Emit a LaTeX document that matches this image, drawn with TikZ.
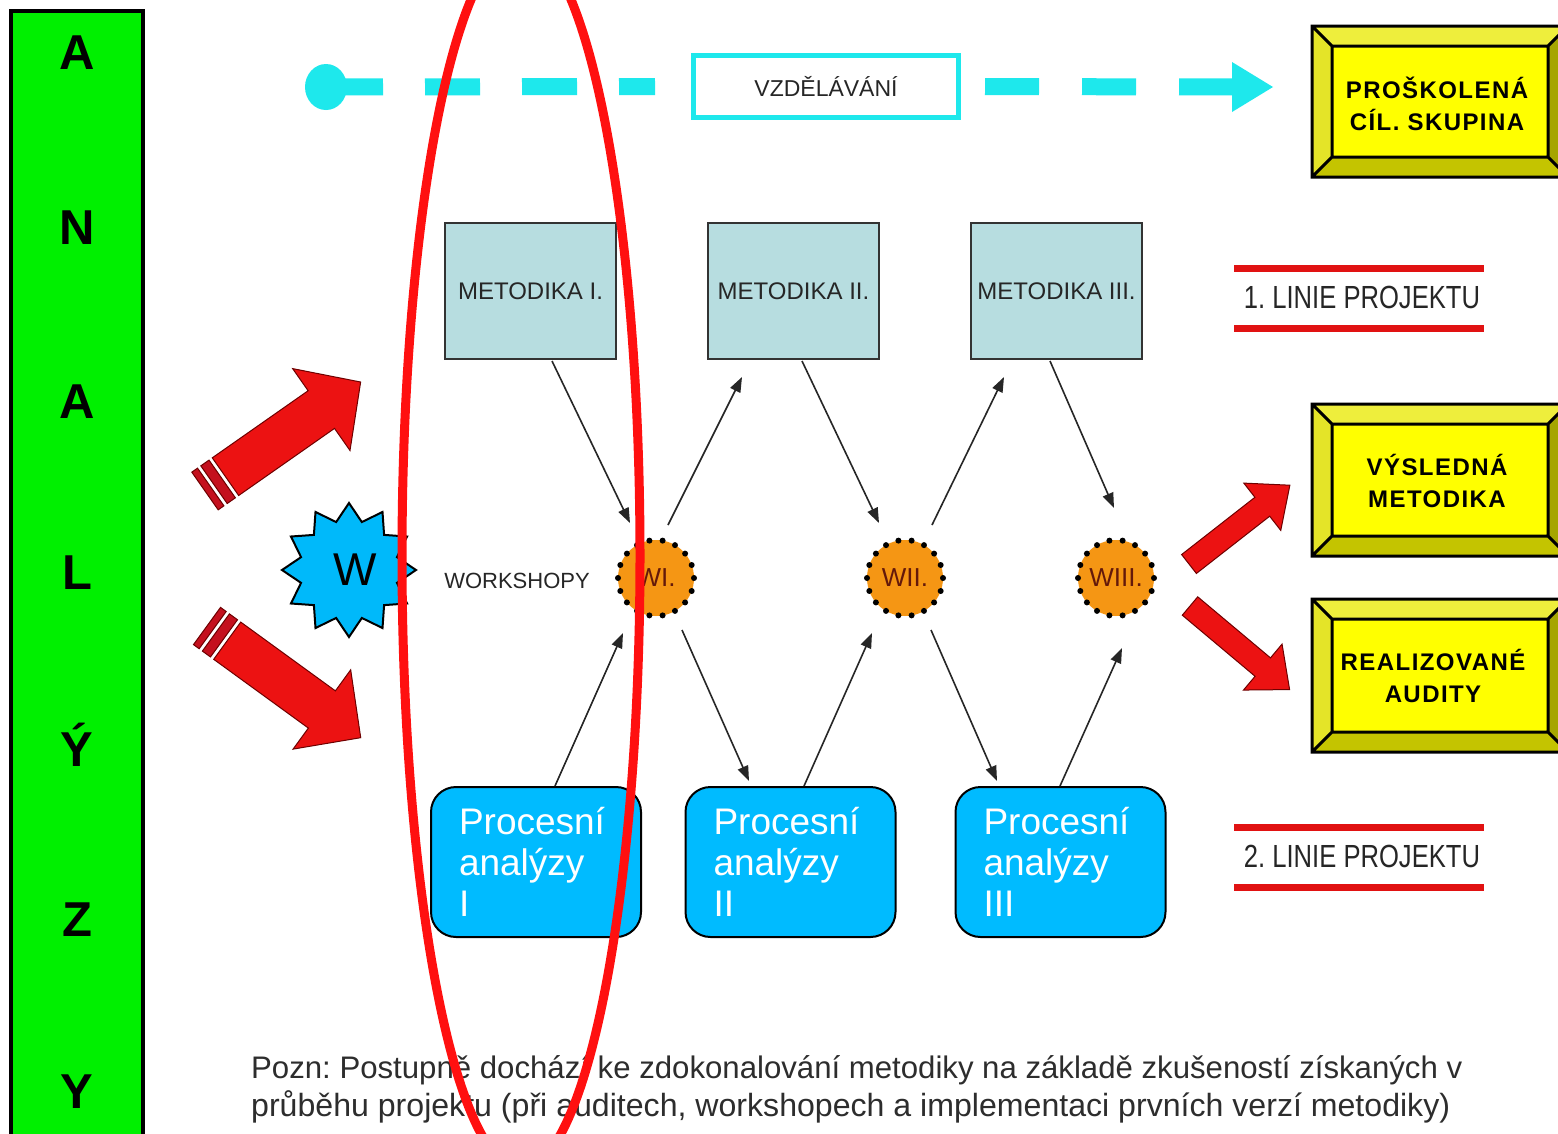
\documentclass[tikz,border=0pt]{standalone}
\usepackage{fontspec}
\setmainfont{Liberation Sans}
\newfontfamily\narrowf{Liberation Sans}[FakeStretch=0.8]
\newfontfamily\yfont{Liberation Sans}[LetterSpace=6]
\usetikzlibrary{shapes.geometric,arrows.meta,calc}
\frenchspacing
\definecolor{gbar}{RGB}{0,240,0}
\definecolor{cyanc}{RGB}{30,232,236}
\definecolor{ytop}{RGB}{238,238,60}
\definecolor{yleft}{RGB}{228,228,40}
\definecolor{ybot}{RGB}{196,196,0}
\definecolor{yright}{RGB}{165,165,0}
\definecolor{yface}{RGB}{255,255,0}
\definecolor{metc}{RGB}{183,221,224}
\definecolor{orangec}{RGB}{245,150,20}
\definecolor{wtext}{RGB}{100,25,10}
\definecolor{pcol}{RGB}{0,187,255}
\definecolor{starc}{RGB}{0,185,250}
\definecolor{redc}{RGB}{236,18,18}
\definecolor{stripec}{RGB}{196,16,30}
\definecolor{darkred}{RGB}{110,0,0}
\definecolor{ellc}{RGB}{255,16,16}
\definecolor{linec}{RGB}{225,18,18}
\definecolor{notec}{RGB}{45,45,45}
\newcommand\ybox[4]{%
 \fill[ytop] (#1,#2) -- (#3,#2) -- (#3-20,#2+20) -- (#1+20,#2+20) -- cycle;
 \fill[yleft] (#1,#2) -- (#1+20,#2+20) -- (#1+20,#4-20) -- (#1,#4) -- cycle;
 \fill[ybot] (#1,#4) -- (#1+20,#4-20) -- (#3-20,#4-20) -- (#3,#4) -- cycle;
 \fill[yright] (#3,#2) -- (#3-20,#2+20) -- (#3-20,#4-20) -- (#3,#4) -- cycle;
 \fill[yface] (#1+20,#2+20) rectangle (#3-20,#4-20);
 \draw[line width=3pt] (#1,#2) rectangle (#3,#4) (#1+20,#2+20) rectangle (#3-20,#4-20)
   (#1,#2) -- (#1+20,#2+20) (#3,#2) -- (#3-20,#2+20) (#1,#4) -- (#1+20,#4-20) (#3,#4) -- (#3-20,#4-20);}
% x, y, angle, length, shaft half, head half, head length, striped
\newcommand\redarrow[8]{%
 \begin{scope}[shift={(#1,#2)},rotate=#3]
  \ifnum#8=1
   \filldraw[fill=stripec,draw=darkred,line width=1pt] (0,-#5) rectangle (7,#5);
   \filldraw[fill=stripec,draw=darkred,line width=1pt] (11,-#5) rectangle (21,#5);
   \filldraw[fill=redc,draw=darkred,line width=1pt] (25,-#5) -- (#4-#7,-#5) -- (#4-#7,-#6) -- (#4,0) -- (#4-#7,#6) -- (#4-#7,#5) -- (25,#5) -- cycle;
  \else
   \filldraw[fill=redc,draw=darkred,line width=1pt] (0,-#5) -- (#4-#7,-#5) -- (#4-#7,-#6) -- (#4,0) -- (#4-#7,#6) -- (#4-#7,#5) -- (0,#5) -- cycle;
  \fi
 \end{scope}}
\begin{document}
\begin{tikzpicture}[x=1pt,y=-1pt,
  barletter/.style={font=\bfseries\fontsize{49}{49}\selectfont, inner sep=0},
  metbox/.style={draw={black!80}, line width=2pt, fill=metc, minimum width=171pt, minimum height=136pt, inner sep=0, font=\fontsize{24}{24}\selectfont, text=black!85},
  wcirc/.style={circle, fill=orangec, draw=black, line width=6pt, line cap=round, dash pattern=on 0pt off 13.26pt, minimum size=76pt, inner sep=0, text=wtext, font=\fontsize{26}{26}\selectfont},
  pbox/.style={draw, line width=2pt, rounded corners=25pt, fill=pcol, minimum width=210pt, minimum height=150pt, text width=154pt, align=left, inner xsep=28pt, text=white, font=\fontsize{37}{41}\selectfont},
  thinarr/.style={line width=1.6pt, black!85, -{Triangle[length=15pt,width=11pt]}},
  ytext/.style={align=center, font=\yfont\bfseries\fontsize{24}{32}\selectfont},
  redline/.style={linec, line width=7pt},
  linie/.style={font=\narrowf\fontsize{32}{32}\selectfont, text=black!85},
  notet/.style={anchor=west, inner sep=0, font=\fontsize{30}{30}\selectfont, text=notec}]
\useasboundingbox (0,0) rectangle (1558,1133);
\clip (0,0) rectangle (1558,1133);
\fill[white] (0,0) rectangle (1558,1133);
% green bar
\draw[fill=gbar, line width=4pt] (11,11) rectangle (143,1150);
\foreach \t/\yy/\n in {A/53/l1, N/228/l2, A/402/l3, L/573/l4, Ý/745/l5, Z/920/l6, Y/1092/l7}
  \node[barletter] (\n) at (77,\yy) {\t};
% education line
\node[ellipse, fill=cyanc, minimum width=42pt, minimum height=46pt, inner sep=0] (vstart) at (326,87) {};
\node[draw=cyanc, line width=5pt, fill=white, minimum width=265pt, minimum height=62pt, inner sep=0, font=\fontsize{23}{23}\selectfont, text=black!85] (vzd) at (826,86.5) {VZDĚLÁVÁNÍ};
\coordinate (vhead) at (1236,87);
\draw[cyanc, line width=17pt, dash pattern=on 57pt off 42pt on 55pt off 42pt on 55pt off 42pt on 36pt off 200pt] (vstart.center) -- (vzd.west);
\draw[cyanc, line width=17pt, dash pattern=on 0pt off 24pt on 54pt off 43pt on 54pt off 43pt on 300pt] (vzd.east) -- (vhead);
\fill[cyanc] (1232,62) -- (1273,87) -- (1232,112) -- cycle;
% yellow boxes
\ybox{1312}{26}{1568}{177}
\node[ytext] (ps) at (1437,104) {PROŠKOLENÁ\\CÍL. SKUPINA};
\ybox{1312}{404}{1568}{556}
\node[ytext] (vm) at (1437,481) {VÝSLEDNÁ\\METODIKA};
\ybox{1312}{599}{1568}{752}
\node[ytext] (ra) at (1433,676) {REALIZOVANÉ\\AUDITY};
% metodiky
\node[metbox] (m1) at (530.5,291) {METODIKA I.};
\node[metbox] (m2) at (793.5,291) {METODIKA II.};
\node[metbox] (m3) at (1056.5,291) {METODIKA III.};
% workshops
\node[font=\fontsize{22}{22}\selectfont, text=black!85] (ws) at (517,581) {WORKSHOPY};
\node[wcirc] (w1) at (656,578) {WI.};
\node[wcirc] (w2) at (905,578) {WII.};
\node[wcirc] (w3) at (1116,578) {WIII.};
% process analyses
\node[pbox] (p1) at (536,862) {Procesní\\analýzy\\I};
\node[pbox] (p2) at (790.5,862) {Procesní\\analýzy\\II};
\node[pbox] (p3) at (1060.5,862) {Procesní\\analýzy\\III};
% thin arrows
\draw[thinarr] ([shift={(21.5,1)}]m1.south) -- ([shift={(-26,-55)}]w1.center);
\draw[thinarr] ([shift={(12,-53)}]w1.center) -- ([shift={(-51.5,17)}]m2.south);
\draw[thinarr] ([shift={(8.5,1)}]m2.south) -- ([shift={(-26,-55)}]w2.center);
\draw[thinarr] ([shift={(27,-53)}]w2.center) -- ([shift={(-52.5,17)}]m3.south);
\draw[thinarr] ([shift={(-6.5,1)}]m3.south) -- ([shift={(-2,-70)}]w3.center);
\draw[thinarr] ([shift={(19,0)}]p1.north) -- ([shift={(-33,55)}]w1.center);
\draw[thinarr] ([shift={(26,52)}]w1.center) -- ([shift={(-41.5,-5)}]p2.north);
\draw[thinarr] ([shift={(13.5,0)}]p2.north) -- ([shift={(-33,55)}]w2.center);
\draw[thinarr] ([shift={(26,52)}]w2.center) -- ([shift={(-63.5,-5)}]p3.north);
\draw[thinarr] ([shift={(-0.5,0)}]p3.north) -- ([shift={(6,70)}]w3.center);
% red block arrows
\redarrow{205}{491}{35}{190}{23}{50}{48}{1}
\redarrow{207}{626}{-36}{190}{23}{49}{48}{1}
\redarrow{1189}{564}{38}{128}{12}{30}{35}{0}
\redarrow{1190}{606}{-40}{130}{12}{30}{35}{0}
% star
\node[star, star points=12, star point ratio=1.35, minimum size=134pt, inner sep=0, fill=starc, draw, line width=2pt, font=\fontsize{46}{46}\selectfont] (wstar) at (349,570) {\hspace{12pt}W};
% project lines
\draw[redline] (1234,268) -- (1484,268);
\draw[redline] (1234,328) -- (1484,328);
\node[linie] (lin1) at (1362,297) {1. LINIE PROJEKTU};
\draw[redline] (1234,827) -- (1484,827);
\draw[redline] (1234,887) -- (1484,887);
\node[linie] (lin2) at (1362,856) {2. LINIE PROJEKTU};
% note
\node[notet] (note1) at (251,1070) {\resizebox{1211pt}{!}{Pozn: Postupně dochází ke zdokonalování metodiky na základě zkušeností získaných v}};
\node[notet] (note2) at (251,1107) {\resizebox{1199pt}{!}{průběhu projektu (při auditech, workshopech a implementaci prvních verzí metodiky)}};
% red ellipse
\draw[ellc, line width=9pt] (521,556) ellipse [x radius=119pt, y radius=613pt];
\end{tikzpicture}
\end{document}
